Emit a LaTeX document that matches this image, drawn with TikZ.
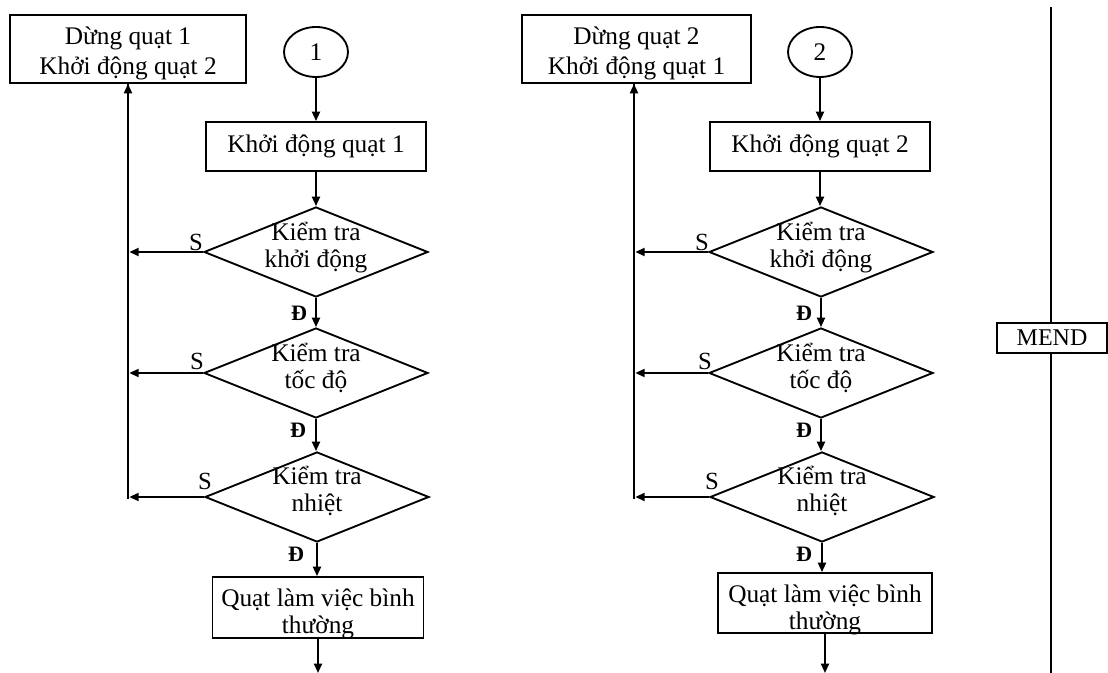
\documentclass[tikz,border=0pt]{standalone}
\usepackage{fontspec}
\setmainfont{Liberation Serif}
\usetikzlibrary{shapes.geometric,arrows.meta}
\begin{document}
\begin{tikzpicture}[x=0.75pt,y=-0.75pt,
  every node/.style={font=\fontsize{19}{20}\selectfont},
  ln/.style={line width=1.4pt},
  arr/.style={ln,-{Triangle[length=7pt,width=6pt]}},
  box/.style={draw,line width=1.4pt,rectangle,inner sep=0pt,align=center},
  dia/.style={draw,line width=1.4pt,diamond,inner sep=0pt,minimum width=168pt,minimum height=67.5pt},
  oval/.style={draw,line width=1.4pt,ellipse,inner sep=0pt,minimum width=48pt,minimum height=37.5pt},
  txt/.style={align=center,inner sep=0pt,font=\fontsize{19}{20.25}\selectfont},
  txtb/.style={align=center,inner sep=0pt,font=\fontsize{19}{22.5}\selectfont},
  lbS/.style={font=\fontsize{18.5}{18.5}\selectfont,inner sep=0pt},
  lbD/.style={font=\bfseries\fontsize{16.5}{16.5}\selectfont,inner sep=0pt}]
\useasboundingbox (0,0) rectangle (1108,673);

% ---------- left chart ----------
\node[box,minimum width=177pt,minimum height=51pt] (stop1) at (128,49) {};
\node[txtb] (stop1t) at (128,53) {Dừng quạt 1\\Khởi động quạt 2};
\node[oval] (c1) at (316,52) {1};
\node[box,minimum width=165pt,minimum height=36.75pt] (start1) at (316,146.5) {Khởi động quạt 1};
\node[dia] (d1a) at (316,252) {};
\node[txt] (d1at) at (316,248) {Kiểm tra\\khởi động};
\node[dia] (d1b) at (316,373) {};
\node[txt] (d1bt) at (316,368) {Kiểm tra\\tốc độ};
\node[dia] (d1c) at (317,497) {};
\node[txt] (d1ct) at (317,491) {Kiểm tra\\nhiệt};
\node[box,minimum width=158.25pt,minimum height=45.75pt] (run1) at (318,607.5) {};
\node[txt] (run1t) at (318,614) {Quạt làm việc bình\\thường};
\coordinate (end1) at (318,673);
\coordinate (b1) at (128,499);

\draw[arr] (c1) -- (start1);
\draw[arr] (start1) -- (d1a);
\draw[arr] (d1a) -- (d1b);
\draw[arr] (d1b.south) -- (d1b.south |- d1c.north);
\draw[arr] (d1c.south) -- (d1c.south |- run1.north);
\draw[arr] (run1.south) -- (end1);
\draw[ln] (b1) -- (b1 |- stop1.south);
\draw[arr] (b1 |- stop1.south) ++(0,40) -- (b1 |- stop1.south);
\draw[arr,shorten >=1pt] (d1a.west) -- (d1a.west -| b1);
\draw[arr,shorten >=1pt] (d1b.west) -- (d1b.west -| b1);
\draw[arr,shorten >=1pt] (d1c.west) -- (d1c.west -| b1);
\node[lbS] (s1a) at (196,242) {S};
\node[lbS] (s1b) at (197,361) {S};
\node[lbS] (s1c) at (205,481) {S};
\node[lbD] (e1a) at (299,313) {Đ};
\node[lbD] (e1b) at (298,430) {Đ};
\node[lbD] (e1c) at (296,554) {Đ};

% ---------- right chart ----------
\node[box,minimum width=171.75pt,minimum height=51pt] (stop2) at (636.5,49) {};
\node[txtb] (stop2t) at (636.5,53) {Dừng quạt 2\\Khởi động quạt 1};
\node[oval] (c2) at (820,52) {2};
\node[box,minimum width=165pt,minimum height=36.75pt] (start2) at (820,146.5) {Khởi động quạt 2};
\node[dia] (d2a) at (821,252) {};
\node[txt] (d2at) at (821,248) {Kiểm tra\\khởi động};
\node[dia] (d2b) at (821,373) {};
\node[txt] (d2bt) at (821,368) {Kiểm tra\\tốc độ};
\node[dia] (d2c) at (822,497) {};
\node[txt] (d2ct) at (822,491) {Kiểm tra\\nhiệt};
\node[box,minimum width=160.5pt,minimum height=45pt] (run2) at (825,603) {};
\node[txt] (run2t) at (825,610) {Quạt làm việc bình\\thường};
\coordinate (end2) at (826,673);
\coordinate (b2) at (634,499);

\draw[arr] (c2) -- (start2);
\draw[arr] (start2.south) -- (start2.south |- d2a.north);
\draw[arr] (d2a) -- (d2b);
\draw[arr] (d2b.south) -- (d2b.south |- d2c.north);
\draw[arr] (d2c.south) -- (d2c.south |- run2.north);
\draw[arr] (run2.south) -- (run2.south |- end2);
\draw[ln] (b2) -- (b2 |- stop2.south);
\draw[arr] (b2 |- stop2.south) ++(0,40) -- (b2 |- stop2.south);
\draw[arr,shorten >=1pt] (d2a.west) -- (d2a.west -| b2);
\draw[arr,shorten >=1pt] (d2b.west) -- (d2b.west -| b2);
\draw[arr,shorten >=1pt] (d2c.west) -- (d2c.west -| b2);
\node[lbS] (s2a) at (702,242) {S};
\node[lbS] (s2b) at (705,361) {S};
\node[lbS] (s2c) at (712,481) {S};
\node[lbD] (e2a) at (804,313) {Đ};
\node[lbD] (e2b) at (804,430) {Đ};
\node[lbD] (e2c) at (804,554) {Đ};

% ---------- divider ----------
\node[box,minimum width=82.5pt,minimum height=22.5pt,font=\fontsize{18}{18}\selectfont] (mend) at (1052,338) {MEND};
\coordinate (vt) at (1051,7);
\coordinate (vb) at (1051,673);
\draw[ln] (vt) -- (vt |- mend.north);
\draw[ln] (vt |- mend.south) -- (vb);
\end{tikzpicture}
\end{document}
